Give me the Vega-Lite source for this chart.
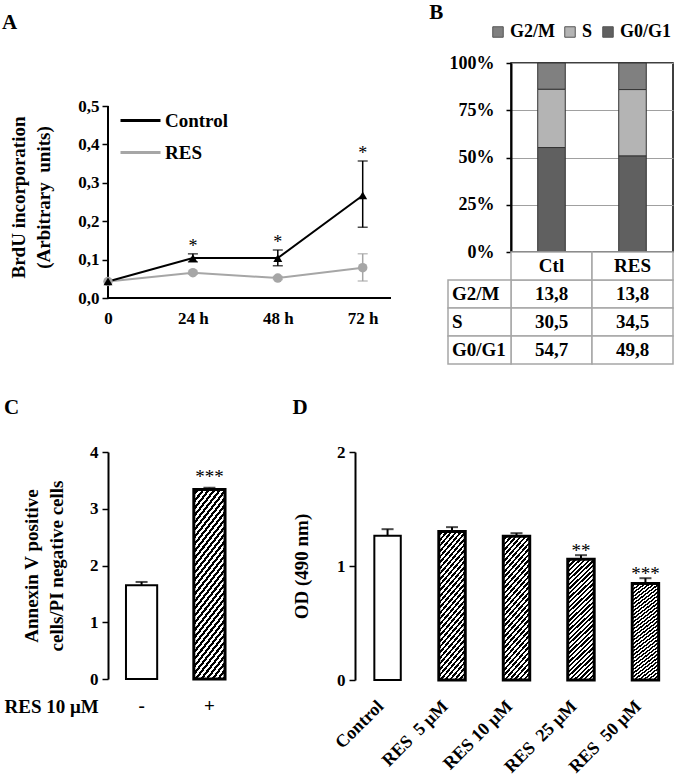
{
  "$schema": "https://vega.github.io/schema/vega-lite/v6.json",
  "padding": {"left": 2, "top": 2, "right": 0, "bottom": 0},
  "background": "white",
  "config": {
    "locale": {"number": {"decimal": ",", "thousands": ".", "grouping": [3], "currency": ["", " €"]}},
    "font": "Liberation Serif",
    "view": {"stroke": null},
    "bar": {"fill": {"gradient": "linear", "x1": 0, "y1": 0, "x2": 0.2449, "y2": 1.1596, "stops": [
      {"offset": 0, "color": "#fff"}, {"offset": 0.015625, "color": "#fff"}, {"offset": 0.015625, "color": "#000"}, {"offset": 0.03125, "color": "#000"},
      {"offset": 0.03125, "color": "#fff"}, {"offset": 0.046875, "color": "#fff"}, {"offset": 0.046875, "color": "#000"}, {"offset": 0.0625, "color": "#000"},
      {"offset": 0.0625, "color": "#fff"}, {"offset": 0.078125, "color": "#fff"}, {"offset": 0.078125, "color": "#000"}, {"offset": 0.09375, "color": "#000"},
      {"offset": 0.09375, "color": "#fff"}, {"offset": 0.109375, "color": "#fff"}, {"offset": 0.109375, "color": "#000"}, {"offset": 0.125, "color": "#000"},
      {"offset": 0.125, "color": "#fff"}, {"offset": 0.140625, "color": "#fff"}, {"offset": 0.140625, "color": "#000"}, {"offset": 0.15625, "color": "#000"},
      {"offset": 0.15625, "color": "#fff"}, {"offset": 0.171875, "color": "#fff"}, {"offset": 0.171875, "color": "#000"}, {"offset": 0.1875, "color": "#000"},
      {"offset": 0.1875, "color": "#fff"}, {"offset": 0.203125, "color": "#fff"}, {"offset": 0.203125, "color": "#000"}, {"offset": 0.21875, "color": "#000"},
      {"offset": 0.21875, "color": "#fff"}, {"offset": 0.234375, "color": "#fff"}, {"offset": 0.234375, "color": "#000"}, {"offset": 0.25, "color": "#000"},
      {"offset": 0.25, "color": "#fff"}, {"offset": 0.265625, "color": "#fff"}, {"offset": 0.265625, "color": "#000"}, {"offset": 0.28125, "color": "#000"},
      {"offset": 0.28125, "color": "#fff"}, {"offset": 0.296875, "color": "#fff"}, {"offset": 0.296875, "color": "#000"}, {"offset": 0.3125, "color": "#000"},
      {"offset": 0.3125, "color": "#fff"}, {"offset": 0.328125, "color": "#fff"}, {"offset": 0.328125, "color": "#000"}, {"offset": 0.34375, "color": "#000"},
      {"offset": 0.34375, "color": "#fff"}, {"offset": 0.359375, "color": "#fff"}, {"offset": 0.359375, "color": "#000"}, {"offset": 0.375, "color": "#000"},
      {"offset": 0.375, "color": "#fff"}, {"offset": 0.390625, "color": "#fff"}, {"offset": 0.390625, "color": "#000"}, {"offset": 0.40625, "color": "#000"},
      {"offset": 0.40625, "color": "#fff"}, {"offset": 0.421875, "color": "#fff"}, {"offset": 0.421875, "color": "#000"}, {"offset": 0.4375, "color": "#000"},
      {"offset": 0.4375, "color": "#fff"}, {"offset": 0.453125, "color": "#fff"}, {"offset": 0.453125, "color": "#000"}, {"offset": 0.46875, "color": "#000"},
      {"offset": 0.46875, "color": "#fff"}, {"offset": 0.484375, "color": "#fff"}, {"offset": 0.484375, "color": "#000"}, {"offset": 0.5, "color": "#000"},
      {"offset": 0.5, "color": "#fff"}, {"offset": 0.515625, "color": "#fff"}, {"offset": 0.515625, "color": "#000"}, {"offset": 0.53125, "color": "#000"},
      {"offset": 0.53125, "color": "#fff"}, {"offset": 0.546875, "color": "#fff"}, {"offset": 0.546875, "color": "#000"}, {"offset": 0.5625, "color": "#000"},
      {"offset": 0.5625, "color": "#fff"}, {"offset": 0.578125, "color": "#fff"}, {"offset": 0.578125, "color": "#000"}, {"offset": 0.59375, "color": "#000"},
      {"offset": 0.59375, "color": "#fff"}, {"offset": 0.609375, "color": "#fff"}, {"offset": 0.609375, "color": "#000"}, {"offset": 0.625, "color": "#000"},
      {"offset": 0.625, "color": "#fff"}, {"offset": 0.640625, "color": "#fff"}, {"offset": 0.640625, "color": "#000"}, {"offset": 0.65625, "color": "#000"},
      {"offset": 0.65625, "color": "#fff"}, {"offset": 0.671875, "color": "#fff"}, {"offset": 0.671875, "color": "#000"}, {"offset": 0.6875, "color": "#000"},
      {"offset": 0.6875, "color": "#fff"}, {"offset": 0.703125, "color": "#fff"}, {"offset": 0.703125, "color": "#000"}, {"offset": 0.71875, "color": "#000"},
      {"offset": 0.71875, "color": "#fff"}, {"offset": 0.734375, "color": "#fff"}, {"offset": 0.734375, "color": "#000"}, {"offset": 0.75, "color": "#000"},
      {"offset": 0.75, "color": "#fff"}, {"offset": 0.765625, "color": "#fff"}, {"offset": 0.765625, "color": "#000"}, {"offset": 0.78125, "color": "#000"},
      {"offset": 0.78125, "color": "#fff"}, {"offset": 0.796875, "color": "#fff"}, {"offset": 0.796875, "color": "#000"}, {"offset": 0.8125, "color": "#000"},
      {"offset": 0.8125, "color": "#fff"}, {"offset": 0.828125, "color": "#fff"}, {"offset": 0.828125, "color": "#000"}, {"offset": 0.84375, "color": "#000"},
      {"offset": 0.84375, "color": "#fff"}, {"offset": 0.859375, "color": "#fff"}, {"offset": 0.859375, "color": "#000"}, {"offset": 0.875, "color": "#000"},
      {"offset": 0.875, "color": "#fff"}, {"offset": 0.890625, "color": "#fff"}, {"offset": 0.890625, "color": "#000"}, {"offset": 0.90625, "color": "#000"},
      {"offset": 0.90625, "color": "#fff"}, {"offset": 0.921875, "color": "#fff"}, {"offset": 0.921875, "color": "#000"}, {"offset": 0.9375, "color": "#000"},
      {"offset": 0.9375, "color": "#fff"}, {"offset": 0.953125, "color": "#fff"}, {"offset": 0.953125, "color": "#000"}, {"offset": 0.96875, "color": "#000"},
      {"offset": 0.96875, "color": "#fff"}, {"offset": 0.984375, "color": "#fff"}, {"offset": 0.984375, "color": "#000"}, {"offset": 1, "color": "#000"}
    ]}},
    "axis": {"labelFont": "Liberation Serif", "labelFontWeight": "bold", "labelFontSize": 17, "labelColor": "#000", "titleFont": "Liberation Serif", "titleFontWeight": "bold", "titleFontSize": 19, "titleColor": "#000", "domainColor": "#000", "domainWidth": 2, "tickColor": "#000", "tickWidth": 1.5, "tickSize": 6, "grid": false, "labelOverlap": false},
    "legend": {"labelFont": "Liberation Serif", "labelFontWeight": "bold", "labelFontSize": 19, "labelColor": "#000", "padding": 0},
    "title": {"font": "Liberation Serif", "fontWeight": "bold", "fontSize": 21, "color": "#000", "anchor": "start", "frame": "bounds"},
    "text": {"font": "Liberation Serif", "fontWeight": "bold", "color": "#000"}
  },
  "datasets": {
    "cycle": [
      {"group": "Ctl", "phase": "G2/M", "value": 13.8, "phaseRank": 3},
      {"group": "Ctl", "phase": "S", "value": 30.5, "phaseRank": 2},
      {"group": "Ctl", "phase": "G0/G1", "value": 54.7, "phaseRank": 1},
      {"group": "RES", "phase": "G2/M", "value": 13.8, "phaseRank": 3},
      {"group": "RES", "phase": "S", "value": 34.5, "phaseRank": 2},
      {"group": "RES", "phase": "G0/G1", "value": 49.8, "phaseRank": 1}
    ]
  },
  "resolve": {"scale": {"color": "independent", "shape": "independent", "fill": "independent", "stroke": "independent"}, "legend": {"color": "independent", "stroke": "independent"}},
  "spacing": 32,
  "vconcat": [
    {
      "spacing": 37,
      "resolve": {"scale": {"color": "independent", "shape": "independent", "fill": "independent", "stroke": "independent"}, "legend": {"color": "independent", "stroke": "independent"}},
      "hconcat": [
        {
          "title": {"text": "A", "offset": 30, "dx": -7},
          "width": 283,
          "height": 235,
          "data": {"values": [
            {"time": 0, "group": "RES", "mean": 0.043, "lo": 0.043, "hi": 0.043, "star": ""},
            {"time": 24, "group": "RES", "mean": 0.066, "lo": 0.062, "hi": 0.070, "star": ""},
            {"time": 48, "group": "RES", "mean": 0.052, "lo": 0.048, "hi": 0.056, "star": ""},
            {"time": 72, "group": "RES", "mean": 0.079, "lo": 0.044, "hi": 0.115, "star": ""},
            {"time": 0, "group": "Control", "mean": 0.043, "lo": 0.043, "hi": 0.043, "star": ""},
            {"time": 24, "group": "Control", "mean": 0.104, "lo": 0.094, "hi": 0.115, "star": "*"},
            {"time": 48, "group": "Control", "mean": 0.104, "lo": 0.084, "hi": 0.125, "star": "*"},
            {"time": 72, "group": "Control", "mean": 0.267, "lo": 0.184, "hi": 0.357, "star": "*"}
          ]},
          "encoding": {
            "x": {"field": "time", "type": "quantitative", "scale": {"domain": [0, 80], "nice": false}, "axis": {"values": [0, 24, 48, 72], "tickCount": 10, "labelExpr": "datum.value == 0 ? '0' : datum.value + ' h'", "domain": false, "ticks": false, "labelPadding": 12, "title": null, "labelFlush": false}}
          },
          "layer": [
            {
              "mark": {"type": "rule", "color": "#000", "strokeWidth": 2},
              "encoding": {
                "x": {"datum": 0, "type": "quantitative"},
                "y": {"datum": 0, "type": "quantitative", "title": ["BrdU incorporation", "(Arbitrary\u00a0 units)"], "scale": {"domain": [0, 0.612], "nice": false}, "axis": {"values": [0, 0.1, 0.2, 0.3, 0.4, 0.5], "tickCount": 10, "format": ".1f", "domain": false, "ticks": true, "labelPadding": 3, "titleLineHeight": 25, "titleAngle": 270, "titleAlign": "center", "titleBaseline": "bottom", "titleX": -80, "titleY": 134}},
                "y2": {"datum": 0.5}
              }
            },
            {
              "mark": {"type": "rule", "color": "#000", "strokeWidth": 2},
              "encoding": {
                "x": {"datum": 0, "type": "quantitative"},
                "x2": {"datum": 80},
                "y": {"datum": 0, "type": "quantitative", "title": ["BrdU incorporation", "(Arbitrary\u00a0 units)"]}
              }
            },
            {
              "mark": {"type": "line", "strokeWidth": 2},
              "encoding": {
                "y": {"field": "mean", "type": "quantitative", "title": ["BrdU incorporation", "(Arbitrary\u00a0 units)"]},
                "stroke": {"field": "group", "type": "nominal", "scale": {"domain": ["Control", "RES"], "range": ["#000000", "#a6a6a6"]}, "legend": {"orient": "none", "legendX": 11, "legendY": 36, "direction": "vertical", "title": null, "symbolType": "stroke", "symbolSize": 1600, "symbolStrokeWidth": 3, "rowPadding": -4, "labelOffset": 3}}
              }
            },
            {
              "transform": [{"filter": "datum.time > 0"}],
              "mark": {"type": "rule", "strokeWidth": 1.5},
              "encoding": {
                "y": {"field": "lo", "type": "quantitative", "title": ["BrdU incorporation", "(Arbitrary\u00a0 units)"]},
                "y2": {"field": "hi"},
                "stroke": {"field": "group", "type": "nominal"}
              }
            },
            {
              "transform": [{"filter": "datum.time > 0"}],
              "mark": {"type": "tick", "orient": "horizontal", "size": 10, "thickness": 1.5},
              "encoding": {
                "y": {"field": "lo", "type": "quantitative", "title": ["BrdU incorporation", "(Arbitrary\u00a0 units)"]},
                "fill": {"field": "group", "type": "nominal", "scale": {"domain": ["Control", "RES"], "range": ["#000000", "#a6a6a6"]}, "legend": null}
              }
            },
            {
              "transform": [{"filter": "datum.time > 0"}],
              "mark": {"type": "tick", "orient": "horizontal", "size": 10, "thickness": 1.5},
              "encoding": {
                "y": {"field": "hi", "type": "quantitative", "title": ["BrdU incorporation", "(Arbitrary\u00a0 units)"]},
                "fill": {"field": "group", "type": "nominal", "legend": null}
              }
            },
            {
              "transform": [{"filter": "datum.group == 'RES'"}],
              "mark": {"type": "point", "shape": "circle", "filled": true, "opacity": 1, "size": 90, "color": "#a6a6a6"},
              "encoding": {
                "y": {"field": "mean", "type": "quantitative", "title": ["BrdU incorporation", "(Arbitrary\u00a0 units)"]}
              }
            },
            {
              "transform": [{"filter": "datum.group == 'Control'"}],
              "mark": {"type": "point", "shape": "triangle-up", "filled": true, "opacity": 1, "size": 80, "color": "#000000"},
              "encoding": {
                "y": {"field": "mean", "type": "quantitative", "title": ["BrdU incorporation", "(Arbitrary\u00a0 units)"]}
              }
            },
            {
              "transform": [{"filter": "datum.star != ''"}],
              "mark": {"type": "text", "baseline": "bottom", "fontSize": 18, "fontWeight": "normal", "dy": 2, "color": "#000"},
              "encoding": {"y": {"field": "hi", "type": "quantitative", "title": ["BrdU incorporation", "(Arbitrary\u00a0 units)"]}, "text": {"field": "star"}}
            }
          ]
        },
        {
          "title": {"text": "B", "offset": 0, "dx": -18},
          "spacing": 0,
          "bounds": "flush",
          "vconcat": [
            {
              "width": 162,
              "height": 189,
              "view": {"stroke": "#000", "strokeWidth": 1.5},
              "data": {"name": "cycle"},
              "mark": {"type": "bar", "stroke": "#333", "strokeWidth": 1},
              "encoding": {
                "x": {"field": "group", "type": "nominal", "scale": {"type": "band", "domain": ["Ctl", "RES"], "paddingInner": 0.66, "paddingOuter": 0.33}, "axis": null},
                "y": {"field": "value", "type": "quantitative", "stack": "normalize", "scale": {"domain": [0, 1]}, "axis": {"values": [0, 0.25, 0.5, 0.75, 1], "tickCount": 10, "format": ".0%", "grid": true, "gridColor": "#a0a0a0", "gridWidth": 1, "tickSize": 5, "labelPadding": 12, "labelFontSize": 18, "title": null}},
                "fill": {"field": "phase", "type": "nominal", "scale": {"domain": ["G2/M", "S", "G0/G1"], "range": ["#808080", "#b4b4b4", "#606060"]}, "legend": {"orient": "none", "legendX": -22, "legendY": -40, "direction": "horizontal", "title": null, "symbolType": "square", "symbolSize": 110, "symbolStrokeColor": "#555", "symbolStrokeWidth": 1, "labelFontSize": 18, "columnPadding": 6, "labelOffset": 3}},
                "order": {"field": "phaseRank", "type": "quantitative"}
              }
            },
            {
              "width": 162,
              "height": 112,
              "data": {"name": "cycle"},
              "resolve": {"scale": {"x": "independent"}},
              "layer": [
                {
                  "mark": {"type": "rect", "fill": "#fff", "stroke": "#a6a6a6", "strokeWidth": 1.5},
                  "encoding": {
                    "x": {"field": "group", "type": "nominal", "scale": {"type": "band", "domain": ["Ctl", "RES"], "padding": 0}, "axis": null},
                    "y": {"field": "phase", "type": "nominal", "scale": {"type": "band", "domain": ["hdr", "G2/M", "S", "G0/G1"], "padding": 0}, "axis": null}
                  }
                },
                {
                  "transform": [{"filter": "datum.phase == 'G2/M'"}],
                  "mark": {"type": "rect", "fill": "#fff", "stroke": "#a6a6a6", "strokeWidth": 1.5},
                  "encoding": {
                    "x": {"field": "group", "type": "nominal", "scale": {"type": "band", "domain": ["Ctl", "RES"], "padding": 0}, "axis": null},
                    "y": {"datum": "hdr", "type": "nominal", "scale": {"type": "band", "domain": ["hdr", "G2/M", "S", "G0/G1"], "padding": 0}, "axis": null}
                  }
                },
                {
                  "transform": [{"filter": "datum.group == 'Ctl'"}],
                  "mark": {"type": "rect", "fill": "#fff", "stroke": "#a6a6a6", "strokeWidth": 1.5},
                  "encoding": {
                    "x": {"datum": "label", "type": "nominal", "scale": {"type": "band", "domain": ["label"], "range": [-63, 0], "padding": 0}, "axis": null},
                    "y": {"field": "phase", "type": "nominal", "scale": {"type": "band", "domain": ["hdr", "G2/M", "S", "G0/G1"], "padding": 0}, "axis": null}
                  }
                },
                {
                  "mark": {"type": "text", "fontSize": 19},
                  "encoding": {
                    "x": {"field": "group", "type": "nominal", "scale": {"type": "band", "domain": ["Ctl", "RES"], "padding": 0}, "axis": null},
                    "y": {"field": "phase", "type": "nominal", "scale": {"type": "band", "domain": ["hdr", "G2/M", "S", "G0/G1"], "padding": 0}, "axis": null},
                    "text": {"field": "value", "type": "quantitative", "format": ".1f"}
                  }
                },
                {
                  "transform": [{"filter": "datum.phase == 'G2/M'"}],
                  "mark": {"type": "text", "fontSize": 19},
                  "encoding": {
                    "x": {"field": "group", "type": "nominal", "scale": {"type": "band", "domain": ["Ctl", "RES"], "padding": 0}, "axis": null},
                    "y": {"datum": "hdr", "type": "nominal", "scale": {"type": "band", "domain": ["hdr", "G2/M", "S", "G0/G1"], "padding": 0}, "axis": null},
                    "text": {"field": "group"}
                  }
                },
                {
                  "transform": [{"filter": "datum.group == 'Ctl'"}],
                  "mark": {"type": "text", "fontSize": 19, "align": "left", "dx": 4},
                  "encoding": {
                    "x": {"datum": "label", "type": "nominal", "bandPosition": 0, "scale": {"type": "band", "domain": ["label"], "range": [-63, 0], "padding": 0}, "axis": null},
                    "y": {"field": "phase", "type": "nominal", "scale": {"type": "band", "domain": ["hdr", "G2/M", "S", "G0/G1"], "padding": 0}, "axis": null},
                    "text": {"field": "phase"}
                  }
                }
              ]
            }
          ]
        }
      ]
    },
    {
      "spacing": 49,
      "hconcat": [
        {
          "title": {"text": "C", "offset": 25},
          "width": 135,
          "height": 227,
          "data": {"values": [
            {"treat": "-", "val": 1.65, "hi": 1.71, "star": ""},
            {"treat": "+", "val": 3.34, "hi": 3.37, "star": "***"}
          ]},
          "encoding": {
            "x": {"field": "treat", "type": "nominal", "sort": null, "scale": {"type": "band", "domain": ["-", "+"], "paddingInner": 0.54, "paddingOuter": 0.265}, "axis": {"title": "RES 10 μM", "titleX": -104, "titleY": 27, "titleAlign": "left", "titleBaseline": "middle", "titleAngle": 0, "labelAngle": 0, "domain": false, "ticks": false, "labelPadding": 17, "labelFontSize": 19}}
          },
          "layer": [
            {
              "transform": [{"filter": "datum.treat == '+'"}],
              "mark": {"type": "bar", "stroke": "#000", "strokeWidth": 3},
              "encoding": {
                "y": {"field": "val", "type": "quantitative", "title": ["Annexin V positive", "cells/PI negative cells"], "scale": {"domain": [0, 4]}, "axis": {"values": [0, 1, 2, 3, 4], "tickCount": 10, "format": "d", "ticks": true, "labelPadding": 4, "titlePadding": 23, "titleLineHeight": 25}}
              }
            },
            {
              "transform": [{"filter": "datum.treat == '-'"}],
              "mark": {"type": "bar", "fill": "#ffffff", "stroke": "#000", "strokeWidth": 2},
              "encoding": {
                "y": {"field": "val", "type": "quantitative", "title": ["Annexin V positive", "cells/PI negative cells"]}
              }
            },
            {
              "mark": {"type": "rule", "strokeWidth": 2, "color": "#000"},
              "encoding": {"y": {"field": "val", "type": "quantitative", "title": ["Annexin V positive", "cells/PI negative cells"]}, "y2": {"field": "hi"}}
            },
            {
              "mark": {"type": "tick", "orient": "horizontal", "size": 12, "thickness": 2, "color": "#000"},
              "encoding": {"y": {"field": "hi", "type": "quantitative", "title": ["Annexin V positive", "cells/PI negative cells"]}}
            },
            {
              "transform": [{"filter": "datum.star != ''"}],
              "mark": {"type": "text", "baseline": "bottom", "fontSize": 19, "fontWeight": "normal", "dy": -1},
              "encoding": {"y": {"field": "hi", "type": "quantitative", "title": ["Annexin V positive", "cells/PI negative cells"]}, "text": {"field": "star"}}
            }
          ]
        },
        {
          "title": {"text": "D", "offset": 25},
          "width": 323,
          "height": 228,
          "data": {"values": [
            {"cond": "Control", "val": 1.265, "hi": 1.323, "star": ""},
            {"cond": "RES\u00a0 5 μM", "val": 1.303, "hi": 1.341, "star": ""},
            {"cond": "RES 10 μM", "val": 1.262, "hi": 1.288, "star": ""},
            {"cond": "RES\u00a0 25 μM", "val": 1.06, "hi": 1.095, "star": "**"},
            {"cond": "RES\u00a0 50 μM", "val": 0.846, "hi": 0.893, "star": "***"}
          ]},
          "encoding": {
            "x": {"field": "cond", "type": "nominal", "sort": null, "scale": {"type": "band", "domain": ["Control", "RES\u00a0 5 μM", "RES 10 μM", "RES\u00a0 25 μM", "RES\u00a0 50 μM"], "paddingInner": 0.59, "paddingOuter": 0.3}, "axis": {"title": null, "labelAngle": -45, "domain": false, "ticks": false, "labelPadding": 17, "labelOffset": -13, "labelFontSize": 18}}
          },
          "layer": [
            {
              "transform": [{"filter": "datum.cond != 'Control'"}],
              "mark": {"type": "bar", "stroke": "#000", "strokeWidth": 3},
              "encoding": {
                "y": {"field": "val", "type": "quantitative", "title": "OD (490 nm)", "scale": {"domain": [0, 2]}, "axis": {"values": [0, 1, 2], "tickCount": 10, "labelExpr": "datum.value + ''", "labelOverlap": false, "ticks": true, "labelPadding": 4, "titlePadding": 25}}
              }
            },
            {
              "transform": [{"filter": "datum.cond == 'Control'"}],
              "mark": {"type": "bar", "fill": "#ffffff", "stroke": "#000", "strokeWidth": 2},
              "encoding": {
                "y": {"field": "val", "type": "quantitative", "title": "OD (490 nm)"}
              }
            },
            {
              "mark": {"type": "rule", "strokeWidth": 2, "color": "#000"},
              "encoding": {"y": {"field": "val", "type": "quantitative", "title": "OD (490 nm)"}, "y2": {"field": "hi"}}
            },
            {
              "mark": {"type": "tick", "orient": "horizontal", "size": 12, "thickness": 2, "color": "#000"},
              "encoding": {"y": {"field": "hi", "type": "quantitative", "title": "OD (490 nm)"}}
            },
            {
              "transform": [{"filter": "datum.star != ''"}],
              "mark": {"type": "text", "baseline": "bottom", "fontSize": 19, "fontWeight": "normal", "dy": 6},
              "encoding": {"y": {"field": "hi", "type": "quantitative", "title": "OD (490 nm)"}, "text": {"field": "star"}}
            }
          ]
        }
      ]
    }
  ]
}
